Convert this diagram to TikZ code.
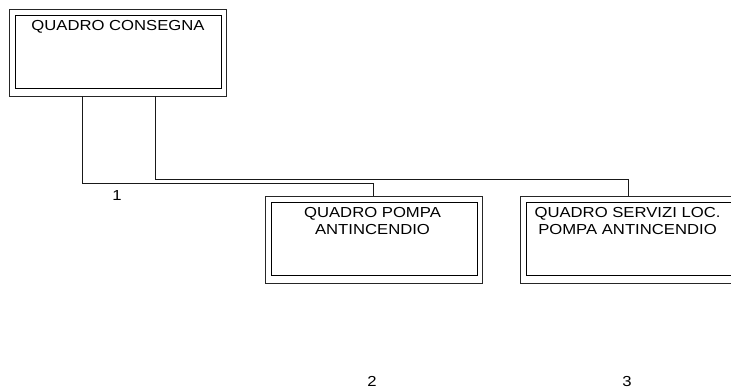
\documentclass[tikz,border=0pt]{standalone}
\usepackage{fontspec}
\setmainfont{Liberation Sans}[FakeStretch=1.15]
\usetikzlibrary{calc}
\begin{document}
\begin{tikzpicture}[x=1bp,y=-1bp,
  outerbox/.style={draw=black!85,line width=0.9bp,inner sep=0,outer sep=0,minimum width=217bp,minimum height=87bp},
  innerline/.style={draw=black,line width=0.9bp},
  wire/.style={draw=black!90,line width=0.9bp},
  boxtext/.style={inner sep=0,outer sep=0,anchor=north,align=center,font=\fontsize{14.5bp}{17.3bp}\selectfont},
  numlabel/.style={inner sep=0,outer sep=0,font=\fontsize{14.5bp}{17.3bp}\selectfont}]
\useasboundingbox (0,0) rectangle (731,389);
% boxes
\node[outerbox] (b1) at (118,52.5) {};
\node[outerbox] (b2) at (373.5,239.5) {};
\node[outerbox] (b3) at (628.5,239.5) {};
\foreach \b in {b1,b2,b3}{
  \draw[innerline] ($(\b.north west)+(6,6)$) rectangle ($(\b.south east)+(-5,-8)$);
}
% texts
\node[boxtext] (t1) at (118,20) {QUADRO CONSEGNA};
\node[boxtext] (t2) at (372.5,207.5) {QUADRO POMPA\\ANTINCENDIO};
\node[boxtext] (t3) at (627.5,207.5) {QUADRO SERVIZI LOC.\\POMPA ANTINCENDIO};
% connectors
\draw[wire] ([xshift=73bp]b1.south west) -- ++(0,87) -| (b2.north);
\draw[wire] ([xshift=146bp]b1.south west) -- ++(0,83) -| (b3.north);
% labels
\node[numlabel] (l1) at (117,196) {1};
\node[numlabel] (l2) at (372,381) {2};
\node[numlabel] (l3) at (627,381) {3};
\end{tikzpicture}
\end{document}
